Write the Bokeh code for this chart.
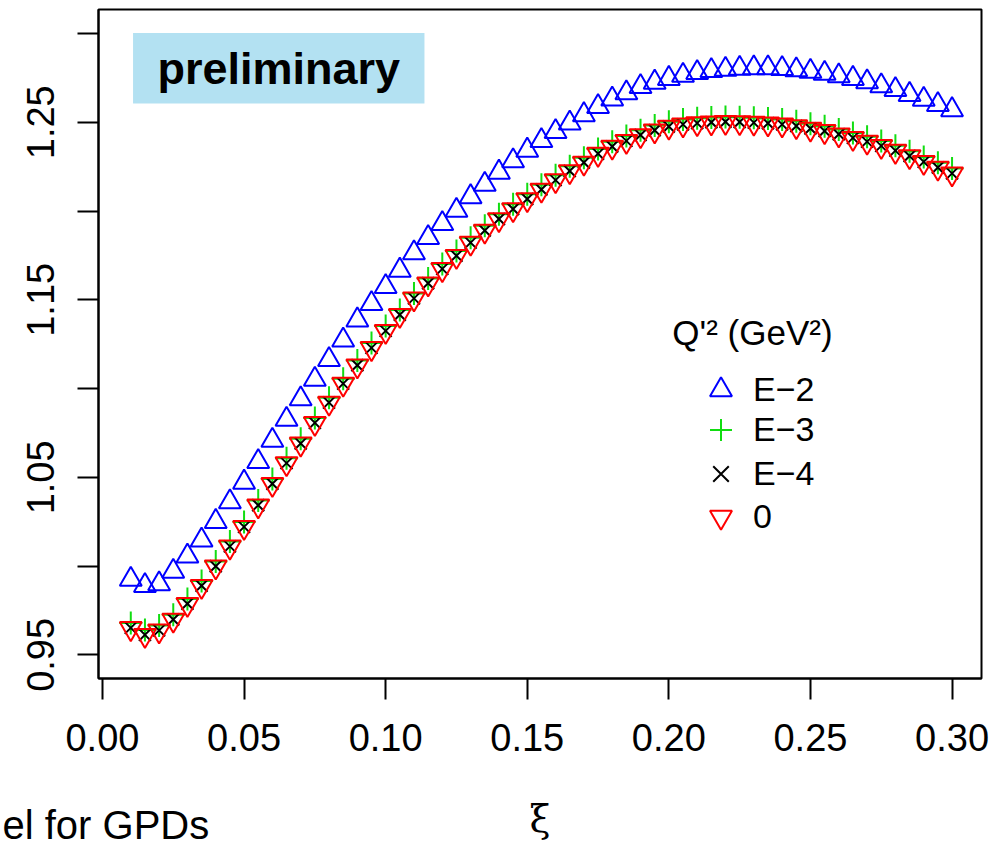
from bokeh.plotting import figure
from bokeh.models import (Range1d, FixedTicker, Label, Legend, LegendItem,
                          BoxAnnotation, PrintfTickFormatter, LinearAxis, Title)
from bokeh.embed import file_html
from bokeh.resources import INLINE

# ---------------- data ----------------
xi = [0.010, 0.015, 0.020, 0.025, 0.030, 0.035, 0.040, 0.045, 0.050, 0.055,
      0.060, 0.065, 0.070, 0.075, 0.080, 0.085, 0.090, 0.095, 0.100, 0.105,
      0.110, 0.115, 0.120, 0.125, 0.130, 0.135, 0.140, 0.145, 0.150, 0.155,
      0.160, 0.165, 0.170, 0.175, 0.180, 0.185, 0.190, 0.195, 0.200, 0.205,
      0.210, 0.215, 0.220, 0.225, 0.230, 0.235, 0.240, 0.245, 0.250, 0.255,
      0.260, 0.265, 0.270, 0.275, 0.280, 0.285, 0.290, 0.295, 0.300]

q2_e2 = [0.9925, 0.9890, 0.9900, 0.9970, 1.0056, 1.0146, 1.0251, 1.0362, 1.0472, 1.0588,
         1.0708, 1.0826, 1.0942, 1.1052, 1.1163, 1.1273, 1.1386, 1.1478, 1.1574, 1.1666,
         1.1764, 1.1850, 1.1929, 1.2003, 1.2080, 1.2150, 1.2218, 1.2282, 1.2342, 1.2396,
         1.2447, 1.2495, 1.2542, 1.2588, 1.2630, 1.2665, 1.2700, 1.2725, 1.2746, 1.2764,
         1.2779, 1.2790, 1.2798, 1.2803, 1.2806, 1.2806, 1.2802, 1.2795, 1.2786, 1.2775,
         1.2761, 1.2746, 1.2727, 1.2705, 1.2683, 1.2656, 1.2628, 1.2599, 1.2570]

q2_e3 = [0.9679, 0.9640, 0.9665, 0.9726, 0.9815, 0.9916, 1.0026, 1.0138, 1.0248, 1.0370,
         1.0491, 1.0607, 1.0718, 1.0834, 1.0948, 1.1055, 1.1158, 1.1256, 1.1352, 1.1443,
         1.1535, 1.1620, 1.1701, 1.1775, 1.1849, 1.1917, 1.1982, 1.2038, 1.2095, 1.2148,
         1.2201, 1.2252, 1.2300, 1.2350, 1.2390, 1.2422, 1.2455, 1.2482, 1.2503, 1.2515,
         1.2522, 1.2527, 1.2530, 1.2528, 1.2525, 1.2521, 1.2515, 1.2506, 1.2492, 1.2478,
         1.2459, 1.2439, 1.2418, 1.2394, 1.2367, 1.2337, 1.2304, 1.2272, 1.2239]

q2_e4 = [0.9652, 0.9613, 0.9638, 0.9699, 0.9788, 0.9889, 0.9999, 1.0111, 1.0221, 1.0343,
         1.0464, 1.0580, 1.0691, 1.0807, 1.0921, 1.1028, 1.1131, 1.1229, 1.1325, 1.1416,
         1.1508, 1.1593, 1.1674, 1.1748, 1.1822, 1.1890, 1.1955, 1.2011, 1.2068, 1.2121,
         1.2174, 1.2225, 1.2273, 1.2323, 1.2363, 1.2395, 1.2428, 1.2455, 1.2476, 1.2488,
         1.2495, 1.2500, 1.2503, 1.2501, 1.2498, 1.2494, 1.2488, 1.2479, 1.2465, 1.2451,
         1.2432, 1.2412, 1.2391, 1.2367, 1.2340, 1.2310, 1.2277, 1.2245, 1.2212]

q2_0 = [0.9649, 0.9610, 0.9635, 0.9696, 0.9785, 0.9886, 0.9996, 1.0108, 1.0218, 1.0340,
        1.0461, 1.0577, 1.0688, 1.0804, 1.0918, 1.1025, 1.1128, 1.1226, 1.1322, 1.1413,
        1.1505, 1.1590, 1.1671, 1.1745, 1.1819, 1.1887, 1.1952, 1.2008, 1.2065, 1.2118,
        1.2171, 1.2222, 1.2270, 1.2320, 1.2360, 1.2392, 1.2425, 1.2452, 1.2473, 1.2485,
        1.2492, 1.2497, 1.2500, 1.2498, 1.2495, 1.2491, 1.2485, 1.2476, 1.2462, 1.2448,
        1.2429, 1.2409, 1.2388, 1.2364, 1.2337, 1.2307, 1.2274, 1.2242, 1.2209]

series_labels = ["E\u22122", "E\u22123", "E\u22124", "0"]
legend_title = "Q'\u00b2 (GeV\u00b2)"
x_axis_title = "\u03be"
slide_text = "el for GPDs"
x_ticks = [0.00, 0.05, 0.10, 0.15, 0.20, 0.25, 0.30]
y_ticks_labeled = [0.95, 1.05, 1.15, 1.25]
y_ticks_unlabeled = [1.00, 1.10, 1.20, 1.30]

# ---------------- figure ----------------
TICK_FONT = "Liberation Sans"

p = figure(width=990, height=849,
           x_range=Range1d(-0.0014, 0.3104), y_range=Range1d(0.9367, 1.3135),
           output_backend="svg", toolbar_location=None,
           min_border_left=98, min_border_right=9, min_border_top=9,
           min_border_bottom=171)
p.background_fill_color = "white"
p.border_fill_color = "white"
p.outline_line_color = "black"
p.outline_line_width = 2
p.xgrid.visible = False
p.ygrid.visible = False

for ax in (p.xaxis[0], p.yaxis[0]):
    ax.axis_line_color = "black"
    ax.axis_line_width = 2
    ax.major_tick_line_color = "black"
    ax.major_tick_line_width = 2
    ax.minor_tick_line_color = "black"
    ax.minor_tick_line_width = 2
    ax.major_tick_in = 0
    ax.major_tick_out = 21
    ax.minor_tick_in = 0
    ax.minor_tick_out = 21
    ax.major_label_text_font = TICK_FONT
    ax.major_label_text_font_size = "38px"
    ax.major_label_text_color = "black"
    ax.formatter = PrintfTickFormatter(format="%.2f")

p.xaxis[0].ticker = FixedTicker(ticks=x_ticks, minor_ticks=[])
p.xaxis[0].major_label_standoff = 24

p.yaxis[0].ticker = FixedTicker(ticks=y_ticks_labeled, minor_ticks=y_ticks_unlabeled)
p.yaxis[0].major_label_orientation = "vertical"
p.yaxis[0].major_label_standoff = 23

# blank spacer band below the tick labels (white tick on white border),
# then the axis symbol and the slide text on one row
spacer = LinearAxis(ticker=FixedTicker(ticks=[0.30], minor_ticks=[]),
                    axis_line_color=None, major_tick_line_color="white",
                    major_tick_line_width=1, minor_tick_line_color=None,
                    major_tick_in=0, major_tick_out=61,
                    minor_tick_in=0, minor_tick_out=0, major_label_standoff=0,
                    major_label_overrides={0.3: ""},
                    major_label_text_font_size="1px")
p.add_layout(spacer, "below")
p.add_layout(Title(text=x_axis_title, align="center", vertical_align="bottom",
                   standoff=-39, text_font="DejaVu Serif", text_font_style="normal",
                   text_font_size="38px", text_color="black"), "below")
p.add_layout(Title(text=slide_text, align="left", vertical_align="middle",
                   standoff=-40, offset=-96, text_font="Liberation Sans",
                   text_font_style="normal", text_font_size="40px",
                   text_color="black"), "below")

# ---------------- series ----------------
r_e2 = p.scatter(xi, q2_e2, marker="triangle", size=22, fill_color=None,
                 line_color="#0000FF", line_width=2)
r_e3 = p.scatter(xi, q2_e3, marker="cross", size=23, fill_color=None,
                 line_color="#11DD11", line_width=2)
r_e4 = p.scatter(xi, q2_e4, marker="x", size=17, fill_color=None,
                 line_color="black", line_width=2)
r_0 = p.scatter(xi, q2_0, marker="inverted_triangle", size=22, fill_color=None,
                line_color="#FF0000", line_width=2)

# one single-row legend per entry so that the keys are large but rows stay close
legend_rows_y = [261, 221, 177, 134]
for lab, rend, ly in zip(series_labels, [r_e2, r_e3, r_e4, r_0], legend_rows_y):
    lg = Legend(items=[LegendItem(label=lab, renderers=[rend])],
                location=(595, ly), orientation="vertical",
                border_line_color=None, background_fill_alpha=0,
                padding=0, margin=0, spacing=0,
                glyph_width=55, glyph_height=55, label_standoff=5,
                label_text_font="Liberation Sans", label_text_font_size="34px",
                label_text_color="black")
    p.add_layout(lg)

p.add_layout(Label(x=0.2012, y=1.1318, text=legend_title, text_align="left",
                   text_baseline="middle", text_font="Liberation Sans",
                   text_font_size="35px", text_color="black"))

# "preliminary" tag
p.add_layout(BoxAnnotation(left=0.0108, right=0.1137, bottom=1.2605, top=1.3003,
                           fill_color="#B3E1F2", fill_alpha=1.0, line_color=None))
p.add_layout(Label(x=0.06225, y=1.2804, text="preliminary", text_align="center",
                   text_baseline="middle", text_font="Liberation Sans",
                   text_font_style="bold", text_font_size="45px", text_color="black"))

open("out.html", "w").write(file_html(p, INLINE))
